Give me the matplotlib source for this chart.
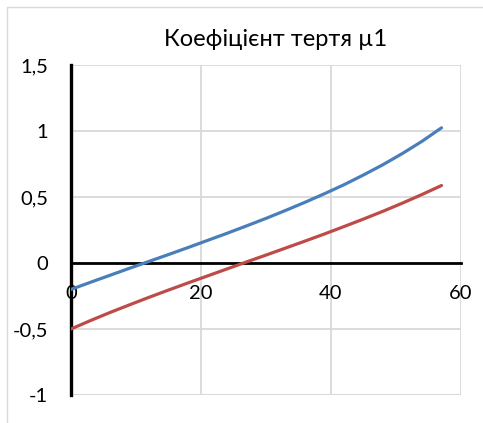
import matplotlib
matplotlib.use("Agg")
import matplotlib.pyplot as plt
from matplotlib.patches import Rectangle

# angle values (degrees) and the two friction-coefficient curves
angle = [0, 3, 6, 9, 12, 15, 18, 21, 24, 27, 30, 33, 36, 39, 42, 45, 48, 51, 54, 57]
mu_blue = [-0.200, -0.146, -0.093, -0.040, 0.012, 0.064, 0.117, 0.171, 0.225, 0.281,
           0.338, 0.398, 0.460, 0.525, 0.593, 0.667, 0.745, 0.830, 0.922, 1.024]
mu_red = [-0.500, -0.436, -0.375, -0.317, -0.260, -0.205, -0.151, -0.098, -0.045, 0.008,
          0.060, 0.113, 0.166, 0.220, 0.276, 0.333, 0.392, 0.454, 0.519, 0.587]

x_ticks = [0, 20, 40, 60]
y_ticks = [-1, -0.5, 0, 0.5, 1, 1.5]
y_labels = ["-1", "-0,5", "0", "0,5", "1", "1,5"]
title = "Коефіцієнт тертя µ1"

plt.rcParams["font.family"] = ["Lato", "DejaVu Sans"]

fig = plt.figure(figsize=(4.83, 4.23), dpi=100)
fig.patches.append(Rectangle((7 / 483, -0.1), 1.2, 1 - 7 / 423 + 0.1,
                             transform=fig.transFigure, fill=False,
                             edgecolor="#d9d9d9", linewidth=1.0))

ax = fig.add_axes([71 / 483, 1 - 395 / 423, 390 / 483, 330 / 423])
ax.set_xlim(0, 60)
ax.set_ylim(-1, 1.5)

ax.grid(True, color="#d9d9d9", linewidth=1.3)
ax.set_axisbelow(True)

for name in ["top", "right"]:
    ax.spines[name].set_visible(False)
ax.spines["left"].set_color("black")
ax.spines["left"].set_linewidth(2.4)
ax.spines["bottom"].set_position(("data", 0))
ax.spines["bottom"].set_color("black")
ax.spines["bottom"].set_linewidth(2.0)
ax.spines["bottom"].set_zorder(1.5)

# gridline along the bottom edge
ax.axhline(-1, color="#d9d9d9", linewidth=1.3, zorder=0.5)

ax.plot(angle, mu_blue, color="#4a7ebb", linewidth=2.3, solid_capstyle="round", zorder=3)
ax.plot(angle, mu_red, color="#be4b48", linewidth=2.3, solid_capstyle="round", zorder=3)

ax.set_xticks(x_ticks)
ax.set_xticklabels([str(v) for v in x_ticks])
ax.set_yticks(y_ticks)
ax.set_yticklabels(y_labels)
ax.tick_params(axis="both", length=0, labelsize=14.5, colors="black")
ax.tick_params(axis="x", pad=16)
ax.tick_params(axis="y", pad=16.5)

fig.text(276 / 483, 1 - 46 / 423, title, ha="center", va="baseline", fontsize=17)

fig.savefig("out.png", dpi=100)
